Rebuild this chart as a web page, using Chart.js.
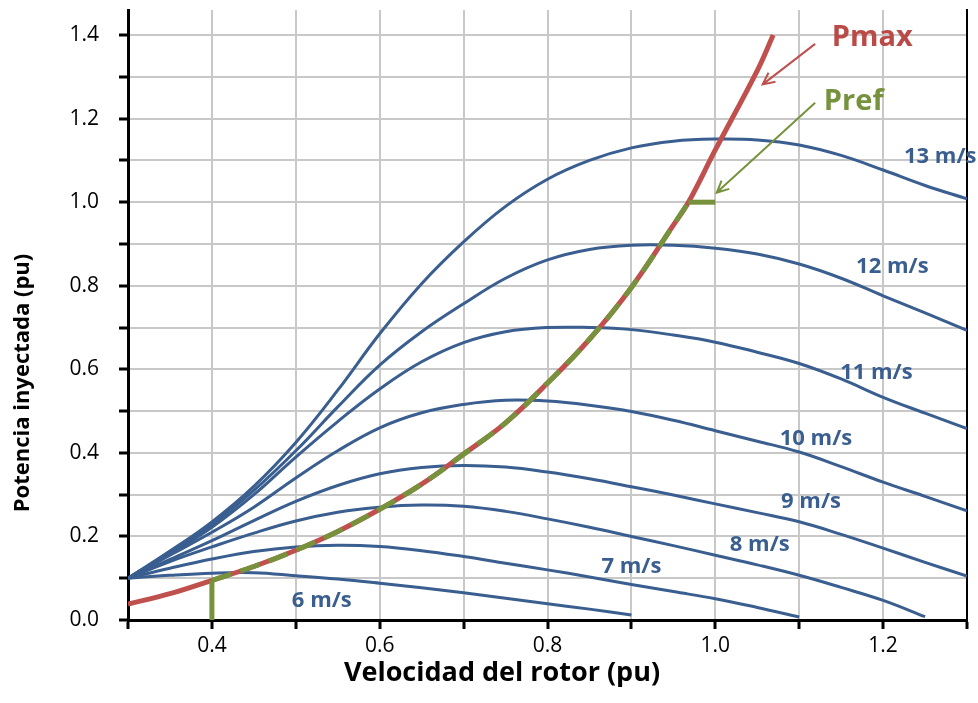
<!DOCTYPE html>
<html>
<head>
<meta charset="utf-8">
<script src="https://cdn.jsdelivr.net/npm/chart.js@4.4.0/dist/chart.umd.min.js"></script>
<style>
  html, body { margin: 0; padding: 0; background: #fff; }
</style>
</head>
<body>
<canvas id="myChart" width="978" height="703"></canvas>
<script>
// rotor speed grid (pu) shared by the wind speed curves
const omega = [0.3, 0.35, 0.4, 0.45, 0.5, 0.55, 0.6, 0.65, 0.7, 0.75, 0.8, 0.85, 0.9, 0.95, 1.0, 1.05, 1.1, 1.15, 1.2, 1.25, 1.3];
const windLabels = ['6 m/s', '7 m/s', '8 m/s', '9 m/s', '10 m/s', '11 m/s', '12 m/s', '13 m/s'];

// injected power (pu) for each wind speed
const p6  = [0.10, 0.107, 0.112, 0.113, 0.106, 0.098, 0.088, 0.077, 0.065, 0.052, 0.039, 0.026, 0.012];
const p7  = [0.10, 0.124, 0.146, 0.164, 0.175, 0.179, 0.176, 0.166, 0.152, 0.136, 0.120, 0.103, 0.085, 0.068, 0.051, 0.030, 0.007];
const p8  = [0.10, 0.140, 0.175, 0.208, 0.237, 0.258, 0.270, 0.275, 0.272, 0.260, 0.242, 0.222, 0.200, 0.178, 0.155, 0.132, 0.107, 0.078, 0.047, 0.008];
const p9  = [0.10, 0.145, 0.190, 0.238, 0.284, 0.322, 0.350, 0.365, 0.370, 0.366, 0.354, 0.338, 0.319, 0.299, 0.278, 0.257, 0.235, 0.205, 0.172, 0.138, 0.105];
const p10 = [0.10, 0.155, 0.210, 0.270, 0.340, 0.405, 0.460, 0.496, 0.516, 0.526, 0.524, 0.514, 0.499, 0.478, 0.453, 0.428, 0.402, 0.367, 0.330, 0.296, 0.261];
const p11 = [0.10, 0.158, 0.222, 0.300, 0.390, 0.475, 0.553, 0.618, 0.664, 0.690, 0.700, 0.700, 0.695, 0.682, 0.665, 0.641, 0.614, 0.577, 0.533, 0.495, 0.458];
const p12 = [0.10, 0.162, 0.228, 0.310, 0.405, 0.510, 0.610, 0.690, 0.757, 0.818, 0.862, 0.887, 0.897, 0.897, 0.890, 0.876, 0.852, 0.818, 0.776, 0.735, 0.693];
const p13 = [0.10, 0.165, 0.235, 0.320, 0.425, 0.550, 0.685, 0.805, 0.905, 0.990, 1.055, 1.100, 1.130, 1.146, 1.151, 1.149, 1.137, 1.112, 1.077, 1.040, 1.008];

// maximum power curve
const omegaPmax = [0.3, 0.35, 0.4, 0.45, 0.5, 0.55, 0.6, 0.65, 0.7, 0.75, 0.8, 0.85, 0.9, 0.95, 0.968, 1.0, 1.05, 1.069];
const pmax      = [0.038, 0.063, 0.095, 0.128, 0.167, 0.212, 0.265, 0.325, 0.397, 0.472, 0.567, 0.672, 0.796, 0.945, 1.0, 1.125, 1.315, 1.40];

// reference power limits
const omegaMin = 0.4;
const omegaRated = 1.0;
const prefMax = 1.0;

const blue = '#395E8F';
const red = '#C0504D';
const green = '#76923C';

const curves = [p6, p7, p8, p9, p10, p11, p12, p13];
const pts = (xs, ys) => xs.map((x, i) => ({x: x, y: ys[i]})).filter(p => p.y != null);

const pmaxPts = pts(omegaPmax, pmax);
const prefPts = pmaxPts.filter(p => p.x >= omegaMin - 1e-9 && p.y <= prefMax + 1e-9);
const prefTop = prefPts[prefPts.length - 1];

var datasets = [];
datasets.push({ data: [{x: omegaMin, y: 0}, prefPts[0]], borderColor: green, borderWidth: 5, tension: 0, order: 0 });
datasets.push({ data: prefPts, borderColor: green, borderWidth: 5, borderDash: [20, 10], tension: 0.4, order: 0 });
datasets.push({ data: [prefTop, {x: omegaRated, y: prefMax}], borderColor: green, borderWidth: 5, tension: 0, order: 0 });
datasets.push({ data: pmaxPts, borderColor: red, borderWidth: 5, tension: 0.4, order: 1 });
curves.forEach((c, i) => {
  datasets.push({ label: windLabels[i], data: pts(omega, c), borderColor: blue, borderWidth: 3, tension: 0.4, order: 2 });
});

// where the labels sit, in data units
const labelAt = [[0.531, 0.045], [0.9, 0.127], [1.053, 0.179], [1.114, 0.282], [1.12, 0.435], [1.192, 0.592], [1.211, 0.846], [1.268, 1.109]];

function arrow(ctx, x0, y0, x1, y1, color) {
  const a = Math.atan2(y1 - y0, x1 - x0);
  ctx.strokeStyle = color;
  ctx.lineWidth = 2;
  ctx.beginPath();
  ctx.moveTo(x0, y0);
  ctx.lineTo(x1, y1);
  ctx.moveTo(x1 - 13 * Math.cos(a - 0.45), y1 - 13 * Math.sin(a - 0.45));
  ctx.lineTo(x1, y1);
  ctx.lineTo(x1 - 13 * Math.cos(a + 0.45), y1 - 13 * Math.sin(a + 0.45));
  ctx.stroke();
}

const notes = {
  id: 'notes',
  afterDatasetsDraw(chart) {
    const ctx = chart.ctx, x = chart.scales.x, y = chart.scales.y;
    ctx.save();
    ctx.textAlign = 'center';
    ctx.textBaseline = 'middle';
    ctx.font = 'bold 22px "Open Sans"';
    ctx.fillStyle = blue;
    windLabels.forEach((t, i) => {
      ctx.fillText(t, x.getPixelForValue(labelAt[i][0]), y.getPixelForValue(labelAt[i][1]));
    });
    arrow(ctx, x.getPixelForValue(1.119), y.getPixelForValue(1.379), x.getPixelForValue(1.0565), y.getPixelForValue(1.282), red);
    arrow(ctx, x.getPixelForValue(1.119), y.getPixelForValue(1.238), x.getPixelForValue(1.0017), y.getPixelForValue(1.023), green);
    ctx.font = 'bold 29px "Open Sans"';
    ctx.fillStyle = '#BA4A47';
    ctx.fillText('Pmax', x.getPixelForValue(1.187), y.getPixelForValue(1.393));
    ctx.fillStyle = green;
    ctx.fillText('Pref', x.getPixelForValue(1.165), y.getPixelForValue(1.24));
    ctx.restore();
  },
  afterDraw(chart) {
    const ctx = chart.ctx;
    ctx.save();
    ctx.fillStyle = '#000';
    ctx.textAlign = 'center';
    ctx.textBaseline = 'middle';
    ctx.font = 'bold 27px "Open Sans"';
    ctx.fillText('Velocidad del rotor (pu)', 502, 673);
    ctx.font = 'bold 22px "Open Sans"';
    ctx.translate(23, 383);
    ctx.rotate(-Math.PI / 2);
    ctx.fillText('Potencia inyectada (pu)', 0, 0);
    ctx.restore();
  }
};

function tickText(v) {
  const k = Math.round(v * 10);
  return k % 2 === 0 ? (k / 10).toFixed(1) : '';
}

function noPad(s) {
  s.paddingTop = 0; s.paddingBottom = 0; s.paddingLeft = 0; s.paddingRight = 0;
}

const gridOpts = { color: '#C8C8C8', lineWidth: 2, tickColor: '#000', tickWidth: 3, tickLength: 9 };
const tickFont = { family: 'Open Sans', size: 21 };

const ctx = document.getElementById('myChart');
let myChart = new Chart(ctx, {
  type: 'line',
  data: { datasets: datasets },
  options: {
    responsive: false,
    animation: false,
    devicePixelRatio: 1,
    layout: { autoPadding: false, padding: { top: 10, left: 0, right: 0, bottom: 0 } },
    elements: { point: { radius: 0 }, line: { borderCapStyle: 'butt' } },
    plugins: { legend: { display: false }, title: { display: false }, tooltip: { enabled: false } },
    scales: {
      x: {
        type: 'linear', min: 0.3, max: 1.3,
        ticks: { stepSize: 0.1, autoSkip: false, maxRotation: 0, color: '#000', font: tickFont, padding: 4, callback: tickText },
        grid: gridOpts,
        border: { color: '#000', width: 3 },
        afterFit: s => { s.height = 83; noPad(s); }
      },
      y: {
        min: 0, max: 1.46,
        ticks: { stepSize: 0.1, includeBounds: false, color: '#000', font: tickFont, padding: 20, callback: tickText },
        grid: gridOpts,
        border: { color: '#000', width: 3 },
        afterFit: s => { s.width = 128; noPad(s); }
      },
      y2: {
        position: 'right', min: 0, max: 1.46,
        ticks: { display: false },
        grid: { drawOnChartArea: false, drawTicks: false },
        border: { color: '#000', width: 2 },
        afterFit: s => { s.width = 11; noPad(s); }
      }
    }
  },
  plugins: [notes]
});
</script>
</body>
</html>
